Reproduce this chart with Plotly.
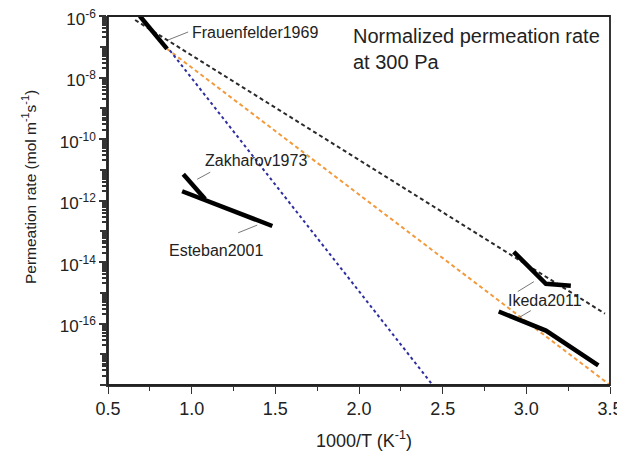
import plotly.graph_objects as go

# ---- data (log10 of permeation rate vs 1000/T) ----
frauen_x = [0.69, 0.853]
frauen_y = [-6.0, -7.07]
zakh_x = [0.95, 1.08]
zakh_y = [-11.15, -11.95]
este_x = [0.943, 1.08, 1.482]
este_y = [-11.70, -11.98, -12.83]
ikeda_up_x = [2.925, 3.117, 3.266]
ikeda_up_y = [-13.67, -14.71, -14.77]
ikeda_lo_x = [2.835, 3.117, 3.43]
ikeda_lo_y = [-15.61, -16.23, -17.36]
black_x = [0.662, 3.47]
black_y = [-6.13, -15.68]
orange_x = [0.853, 3.5]
orange_y = [-7.07, -18.0]
blue_x = [0.87, 2.44]
blue_y = [-7.12, -18.0]

x_ticks = [0.5, 1.0, 1.5, 2.0, 2.5, 3.0, 3.5]
x_ticklabels = ["0.5", "1.0", "1.5", "2.0", "2.5", "3.0", "3.5"]
y_label_exps = [-16, -14, -12, -10, -8, -6]
y_odd_exps = [-17, -15, -13, -11, -9, -7, -18]

def p(v):
    return [10.0 ** a for a in v]

font = dict(family="Liberation Sans, Arial, sans-serif", color="#222")

fig = go.Figure()
dash_lines = [
    (black_x, black_y, "#2a2a2a", "4px,3px"),
    (orange_x, orange_y, "#f39a3c", "4px,3px"),
    (blue_x, blue_y, "#2e2ea0", "3px,3px"),
]
for xs, ys, c, d in dash_lines:
    fig.add_trace(go.Scatter(x=xs, y=p(ys), mode="lines",
                             line=dict(color=c, width=2, dash=d),
                             showlegend=False, hoverinfo="skip"))
for xs, ys in [(frauen_x, frauen_y), (zakh_x, zakh_y), (este_x, este_y),
               (ikeda_up_x, ikeda_up_y), (ikeda_lo_x, ikeda_lo_y)]:
    fig.add_trace(go.Scatter(x=xs, y=p(ys), mode="lines",
                             line=dict(color="black", width=4.5),
                             showlegend=False, hoverinfo="skip"))

# leader lines from curves to labels
leaders = [
    ([0.859, 0.979], [-6.78, -6.52]),
    ([1.033, 1.111], [-11.31, -11.08]),
    ([1.278, 1.392], [-13.05, -12.80]),
    ([2.949, 3.045], [-14.96, -14.64]),
    ([2.955, 3.027], [-15.81, -15.58]),
]
for xs, ys in leaders:
    fig.add_trace(go.Scatter(x=xs, y=p(ys), mode="lines",
                             line=dict(color="#777", width=1),
                             showlegend=False, hoverinfo="skip"))

fig.add_trace(go.Scatter(x=[None], y=[None], yaxis="y2", showlegend=False))

minor_vals = []
for k in range(-18, -6):
    for m in range(2, 10):
        minor_vals.append(m * 10.0 ** k)

annots = [
    dict(x=0.991, y=-6.55, xref="x", yref="y", text="Frauenfelder1969",
         showarrow=False, xanchor="left", yanchor="middle", font=dict(size=16, **font)),
    dict(x=1.069, y=-10.69, xref="x", yref="y", text="Zakharov1973",
         showarrow=False, xanchor="left", yanchor="middle", font=dict(size=16, **font)),
    dict(x=0.853, y=-13.64, xref="x", yref="y", text="Esteban2001",
         showarrow=False, xanchor="left", yanchor="middle", font=dict(size=16, **font)),
    dict(x=2.877, y=-15.26, xref="x", yref="y", text="Ikeda2011",
         showarrow=False, xanchor="left", yanchor="middle", font=dict(size=16, **font)),
    dict(x=0.984, y=0.982, xref="paper", yref="paper",
         text="Normalized permeation rate<br>at 300 Pa",
         showarrow=False, xanchor="right", yanchor="top", align="left",
         font=dict(size=20, **font)),
    dict(x=0.51, y=-0.149, xref="paper", yref="paper", text="1000/T (K<sup>-1</sup>)",
         showarrow=False, xanchor="center", yanchor="middle", font=dict(size=18, **font)),
    dict(x=-0.157, y=0.537, xref="paper", yref="paper",
         text="Permeation rate (mol m<sup>-1</sup>s<sup>-1</sup>)", textangle=-90,
         showarrow=False, xanchor="center", yanchor="middle", font=dict(size=15.5, **font)),
]

fig.update_layout(
    width=617, height=451,
    margin=dict(l=100, r=15, t=8, b=74),
    paper_bgcolor="white", plot_bgcolor="white",
    font=font,
    annotations=annots,
    shapes=[dict(type="rect", xref="paper", yref="paper", x0=0, x1=1, y0=0, y1=1,
                 line=dict(color="#222", width=1.8), fillcolor="rgba(0,0,0,0)",
                 layer="above")],
    xaxis=dict(range=[0.5, 3.5], tickmode="array", tickvals=x_ticks, ticktext=x_ticklabels,
               ticks="outside", ticklen=7, tickwidth=1.3, tickcolor="#333",
               minor=dict(ticks="outside", ticklen=4, tickvals=[0.75, 1.25, 1.75, 2.25, 2.75, 3.25],
                          tickcolor="#333", tickwidth=1.3),
               showline=True, linecolor="#333", linewidth=1.5,
               showgrid=False, zeroline=False, automargin=False,
               ticklabeloverflow="allow",
               tickfont=dict(size=18, **font)),
    yaxis=dict(type="log", range=[-18, -6], tickmode="array",
               tickvals=p(y_label_exps),
               ticktext=["10<sup>%d</sup>" % k for k in y_label_exps],
               ticks="outside", ticklen=7, tickwidth=1.5, tickcolor="#333",
               minor=dict(ticks="outside", ticklen=4, tickvals=minor_vals, tickcolor="#333"),
               showline=True, linecolor="#333", linewidth=1.5,
               showgrid=False, zeroline=False, automargin=False,
               ticklabeloverflow="allow", ticklabelshift=3,
               tickfont=dict(size=17, **font)),
    yaxis2=dict(type="log", range=[-18, -6], overlaying="y", side="left",
                tickmode="array", tickvals=p(y_odd_exps),
                ticks="outside", ticklen=7, tickwidth=1.5, tickcolor="#333",
                showgrid=False, showline=False, zeroline=False, showticklabels=False,
                automargin=False),
)
fig.write_html("out.html")
